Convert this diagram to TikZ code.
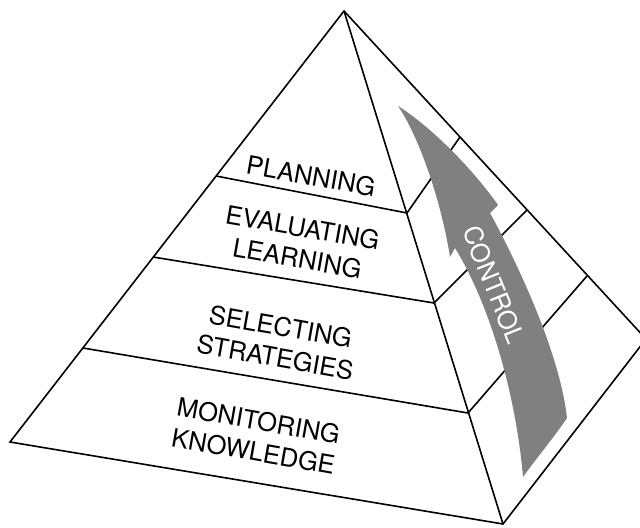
\documentclass[tikz,border=0pt]{standalone}
\usepackage{fontspec}
\setmainfont{TeX Gyre Heros}
\definecolor{arrowgray}{RGB}{128,128,128}
\begin{document}
\begin{tikzpicture}[x=1bp,y=-1bp,
  edge/.style={line width=1.6bp, line join=miter, line cap=butt},
  label/.style={align=center, rotate=-10, inner sep=0pt,
    font=\fontsize{25.5bp}{31bp}\selectfont},
  ctrl/.style={text=white, rotate=-68, inner sep=0pt,
    font=\fontsize{25.5bp}{28bp}\selectfont}]
\useasboundingbox (0,0) rectangle (640,528);
\clip (0,0) rectangle (640,528);
% pyramid corners
\coordinate (A) at (344,11);
\coordinate (L) at (10,442);
\coordinate (F) at (503,524);
\coordinate (R) at (646,339);
% band points: left edge, ridge, right edge
\coordinate (l1) at (216,176);
\coordinate (l2) at (153,257);
\coordinate (l3) at (83,348);
\coordinate (m1) at (407,213);
\coordinate (m2) at (434,303);
\coordinate (m3) at (468,413);
\coordinate (r1) at (460,137);
\coordinate (r2) at (527,210);
\coordinate (r3) at (587,276);
% outline
\draw[edge] (A) -- (L) -- (F) -- (R) -- cycle;
\draw[edge] (A) -- (F);
% bands
\draw[edge] (l1) -- (m1) -- (r1);
\draw[edge] (l2) -- (m2) -- (r2);
\draw[edge] (l3) -- (m3) -- (r3);
% control arrow
\fill[arrowgray] (398,106) .. controls (430,126) and (472,168) .. (498,205)
  -- (490,213) .. controls (520,268) and (560,355) .. (567,418)
  .. controls (552,440) and (535,460) .. (523,477)
  .. controls (516,395) and (490,305) .. (455,248)
  -- (450,257) .. controls (442,205) and (420,138) .. cycle;
\node[ctrl] (control) at (494,285) {CONTROL};
% labels
\node[label] (planning) at (311,176) {PLANNING};
\node[label] (evaluating) at (300,243) {EVALUATING\\LEARNING};
\node[label] (selecting) at (278,342) {SELECTING\\STRATEGIES};
\node[label] (monitoring) at (256,436) {MONITORING\\KNOWLEDGE};
\end{tikzpicture}
\end{document}
